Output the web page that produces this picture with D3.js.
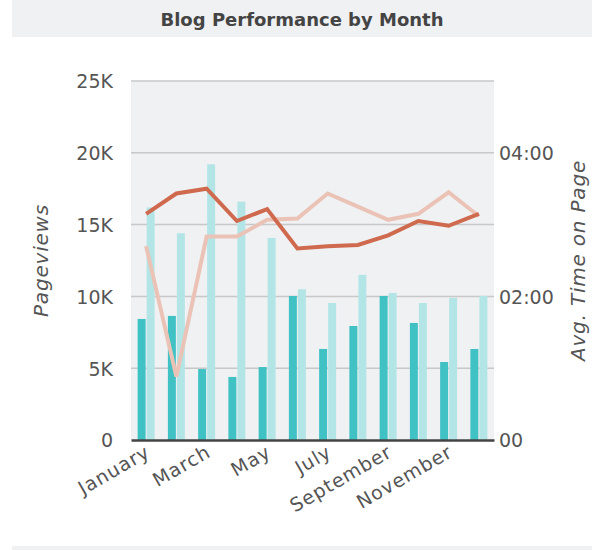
<!DOCTYPE html>
<html>
<head>
<meta charset="utf-8">
<script src="https://cdn.jsdelivr.net/npm/d3@7"></script>
<style>
  body { margin: 0; background: #fff; }
  svg text { font-family: "DejaVu Sans", sans-serif; fill: #555; }
</style>
</head>
<body>
<svg id="chart" width="592" height="550"></svg>
<script>
const months = ["January", "February", "March", "April", "May", "June", "July",
  "August", "September", "October", "November", "December"];
const pageviews = [8430, 8640, 4940, 4390, 5080, 10030, 6340, 7940, 10030, 8150, 5430, 6340];
const pageviewsPrev = [16200, 14400, 19200, 16600, 14070, 10500, 9540, 11500, 10240, 9540, 9890, 10030];
// avg time on page, seconds
const avgTime = [189, 206, 210, 183, 193, 160, 162, 163, 171, 183, 179, 189];
const avgTimePrev = [162, 53, 170, 170, 184, 185, 206, 195, 184, 189, 207, 187];
const leftTicks = [0, 5000, 10000, 15000, 20000, 25000];
const rightTicks = [0, 120, 240];
const rightTickLabels = ["00", "02:00", "04:00"];
const shownMonths = ["January", "March", "May", "July", "September", "November"];

const svg = d3.select("#chart");
const margin = {top: 81, right: 98, bottom: 110, left: 131};
const width = 592, height = 550;

function translate(x, y) {
  return "translate(" + x + "," + y + ")";
}

// title band
svg.append("rect").attr("x", 12).attr("y", 0).attr("width", 580).attr("height", 37).attr("fill", "#f0f1f3");
svg.append("text").attr("x", 302).attr("y", 26).attr("text-anchor", "middle")
  .style("font-size", "18px").style("font-weight", "bold").style("fill", "#444")
  .text("Blog Performance by Month");
// bottom band
svg.append("rect").attr("x", 12).attr("y", 546).attr("width", 580).attr("height", 4).attr("fill", "#f0f1f3");

const x = d3.scaleBand().domain(months).range([margin.left, width - margin.right]);
const x1 = d3.scaleBand().domain(["cur", "prev"]).range([0, x.bandwidth()])
  .paddingInner(0.111).paddingOuter(0.736);
const y = d3.scaleLinear().domain([0, 25000]).range([height - margin.bottom, margin.top]);
const y2 = d3.scaleLinear().domain([0, 300]).range([height - margin.bottom, margin.top]);

const plotBottom = height - margin.bottom; // 440

svg.append("rect").attr("x", margin.left).attr("y", margin.top)
  .attr("width", width - margin.right - margin.left).attr("height", plotBottom - margin.top)
  .attr("fill", "#f0f1f3");

// grid
svg.append("g").selectAll("line").data(leftTicks.slice(1)).join("line")
  .attr("x1", margin.left).attr("x2", width - margin.right)
  .attr("y1", d => y(d)).attr("y2", d => y(d))
  .attr("stroke", "#c8c8c8").attr("stroke-width", 1.5);

// left axis
const yAxis = svg.append("g").attr("transform", translate(margin.left, 0))
  .call(d3.axisLeft(y).tickValues(leftTicks).tickSize(0).tickPadding(18)
    .tickFormat(d => d === 0 ? "0" : (d / 1000) + "K"));
yAxis.select(".domain").remove();
yAxis.selectAll("text").style("font-size", "19px").style("fill", "#555").attr("dy", "0.36em");

// right axis
const yAxis2 = svg.append("g").attr("transform", translate(width - margin.right, 0))
  .call(d3.axisRight(y2).tickValues(rightTicks).tickSize(0).tickPadding(5)
    .tickFormat((d, i) => rightTickLabels[i]));
yAxis2.select(".domain").remove();
yAxis2.selectAll("text").style("font-size", "19px").style("fill", "#555").attr("dy", "0.36em");

// bars
const groups = svg.append("g").selectAll("g").data(months).join("g")
  .attr("transform", d => translate(x(d), 0));
groups.append("rect")
  .attr("x", x1("cur")).attr("width", x1.bandwidth())
  .attr("y", (d, i) => y(pageviews[i])).attr("height", (d, i) => plotBottom - y(pageviews[i]))
  .attr("fill", "#40c1c4");
groups.append("rect")
  .attr("x", x1("prev")).attr("width", x1.bandwidth())
  .attr("y", (d, i) => y(pageviewsPrev[i])).attr("height", (d, i) => plotBottom - y(pageviewsPrev[i]))
  .attr("fill", "#b3e5e6");

// lines
const line = d3.line().x((d, i) => x(months[i]) + x.bandwidth() / 2).y(d => y2(d));
svg.append("path").datum(avgTimePrev).attr("d", line)
  .attr("fill", "none").attr("stroke", "#ebc3b6").attr("stroke-width", 4);
svg.append("path").datum(avgTime).attr("d", line)
  .attr("fill", "none").attr("stroke", "#cf6a4e").attr("stroke-width", 4);

// x axis
const xAxis = svg.append("g").attr("transform", translate(0, plotBottom))
  .call(d3.axisBottom(x).tickSize(0)
    .tickFormat(d => shownMonths.includes(d) ? d : ""));
xAxis.select(".domain").attr("stroke", "#444").attr("stroke-width", 2.5);
xAxis.selectAll("text")
  .style("font-size", "19px").style("fill", "#555").style("letter-spacing", "1px")
  .attr("text-anchor", "end").attr("x", 0).attr("y", 0).attr("dy", "0.35em")
  .attr("transform", "translate(2,10) rotate(-30)");

// axis titles
svg.append("text")
  .attr("transform", translate(48, (margin.top + plotBottom) / 2) + " rotate(-90)")
  .attr("text-anchor", "middle").style("font-size", "20px").style("font-style", "italic")
  .style("letter-spacing", "0.8px")
  .text("Pageviews");
svg.append("text")
  .attr("transform", translate(585, (margin.top + plotBottom) / 2) + " rotate(-90)")
  .attr("text-anchor", "middle").style("font-size", "20px").style("font-style", "italic")
  .style("letter-spacing", "0.8px")
  .text("Avg. Time on Page");
</script>
</body>
</html>
